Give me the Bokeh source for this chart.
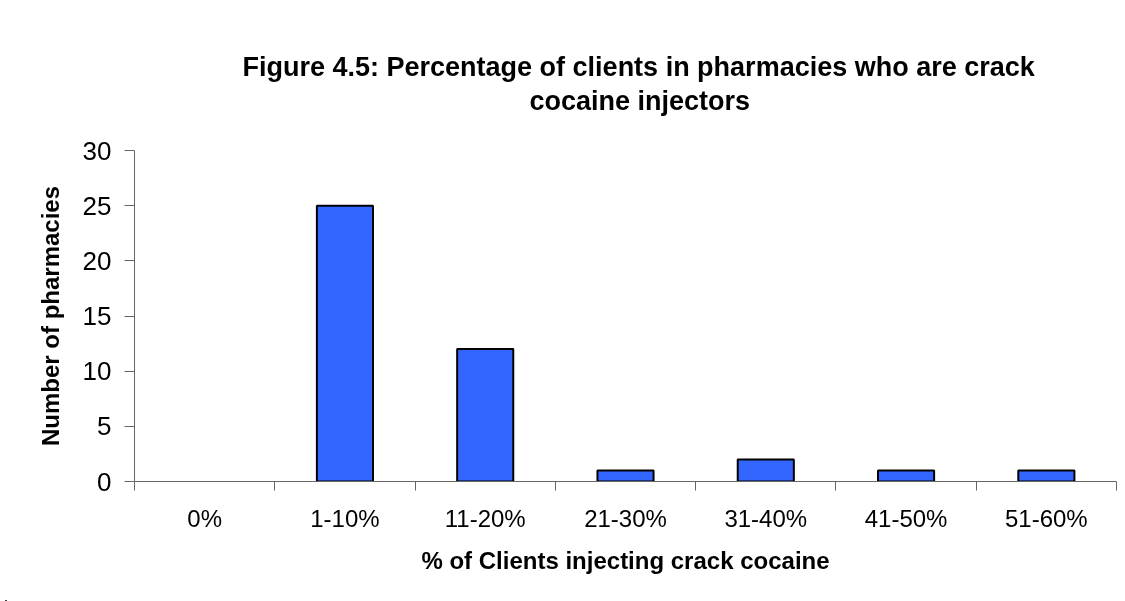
from bokeh.plotting import figure
from bokeh.layouts import column
from bokeh.models import Range1d, FixedTicker, Title, Div
from bokeh.embed import file_html
from bokeh.resources import INLINE

# Survey counts per band of crack-injecting clients
categories = ["0%", "1-10%", "11-20%", "21-30%", "31-40%", "41-50%", "51-60%"]
pharmacies = [0, 25, 12, 1, 2, 1, 1]
y_ticks = [0, 5, 10, 15, 20, 25, 30]

title_lines = [
    "Figure 4.5: Percentage of clients in pharmacies who are crack",
    "cocaine injectors",
]
x_title = "% of Clients injecting crack cocaine"
y_title = "Number of pharmacies"

FONT = "Liberation Sans"
AXIS_GREY = "#666666"
FRAME = "#404040"

n = len(categories)
centers = [i + 0.5 for i in range(n)]
bounds = list(range(n + 1))

W, H = 1125, 600
p = figure(
    width=W, height=H,
    output_backend="svg", toolbar_location=None,
    x_range=Range1d(0, n), y_range=Range1d(0, 30),
    min_border_left=134, min_border_right=9,
    min_border_top=150, min_border_bottom=119,
)
p.background_fill_color = "white"
p.border_fill_color = "white"
p.outline_line_color = None
p.xgrid.visible = False
p.ygrid.visible = False

# empty categories get no outline
line_alpha = [1.0 if v > 0 else 0.0 for v in pharmacies]
p.vbar(x=centers, top=pharmacies, bottom=0, width=0.4,
       fill_color="#3366FF", line_color="black", line_width=2,
       line_alpha=line_alpha)

# x axis: labels centred under bars, tick marks on category boundaries
xa = p.xaxis[0]
xa.ticker = FixedTicker(ticks=centers, minor_ticks=bounds)
xa.major_label_overrides = {c: lab for c, lab in zip(centers, categories)}
xa.major_tick_out = 0
xa.major_tick_in = 0
xa.minor_tick_out = 9
xa.minor_tick_in = 0
xa.axis_line_color = AXIS_GREY
xa.minor_tick_line_color = AXIS_GREY
xa.major_label_text_font = FONT
xa.major_label_text_font_size = "24px"
xa.major_label_text_color = "black"
xa.major_label_standoff = 14
xa.axis_label = x_title
xa.axis_label_text_font = FONT
xa.axis_label_text_font_size = "24px"
xa.axis_label_text_font_style = "bold"
xa.axis_label_text_color = "black"
xa.axis_label_standoff = 12

ya = p.yaxis[0]
ya.ticker = FixedTicker(ticks=y_ticks, minor_ticks=[])
ya.major_tick_out = 10
ya.major_tick_in = 0
ya.minor_tick_out = 0
ya.minor_tick_in = 0
ya.axis_line_color = AXIS_GREY
ya.major_tick_line_color = AXIS_GREY
ya.major_label_text_font = FONT
ya.major_label_text_font_size = "26px"
ya.major_label_text_color = "black"
ya.major_label_standoff = 13
ya.axis_label = y_title
ya.axis_label_text_font = FONT
ya.axis_label_text_font_size = "24px"
ya.axis_label_text_font_style = "bold"
ya.axis_label_text_color = "black"
ya.axis_label_standoff = 16

# gap between the title block and the plotting area
p.add_layout(Title(text=" ", text_font_size="1px", standoff=32), "above")

# two-line chart title, left-anchored so that both lines centre near x=640
title_offsets = [108, 395]
title_standoffs = [4, 0]
for line, off, so in reversed(list(zip(title_lines, title_offsets, title_standoffs))):
    p.add_layout(Title(text=line, align="left", offset=off,
                       text_font=FONT, text_font_size="27px",
                       text_font_style="bold", text_color="black",
                       standoff=so), "above")

# chart-area frame: left and top edges as fixed-position strips over the page
frame_html = (
    f'<div style="position:fixed;left:5px;top:7px;width:2px;height:{H}px;'
    f'background:{FRAME};"></div>'
    f'<div style="position:fixed;left:5px;top:7px;width:{W}px;height:2px;'
    f'background:{FRAME};"></div>'
)
frame = Div(text=frame_html, width=0, height=0, margin=0)

page = column(frame, p, spacing=0)

open("out.html", "w").write(file_html(page, INLINE))
